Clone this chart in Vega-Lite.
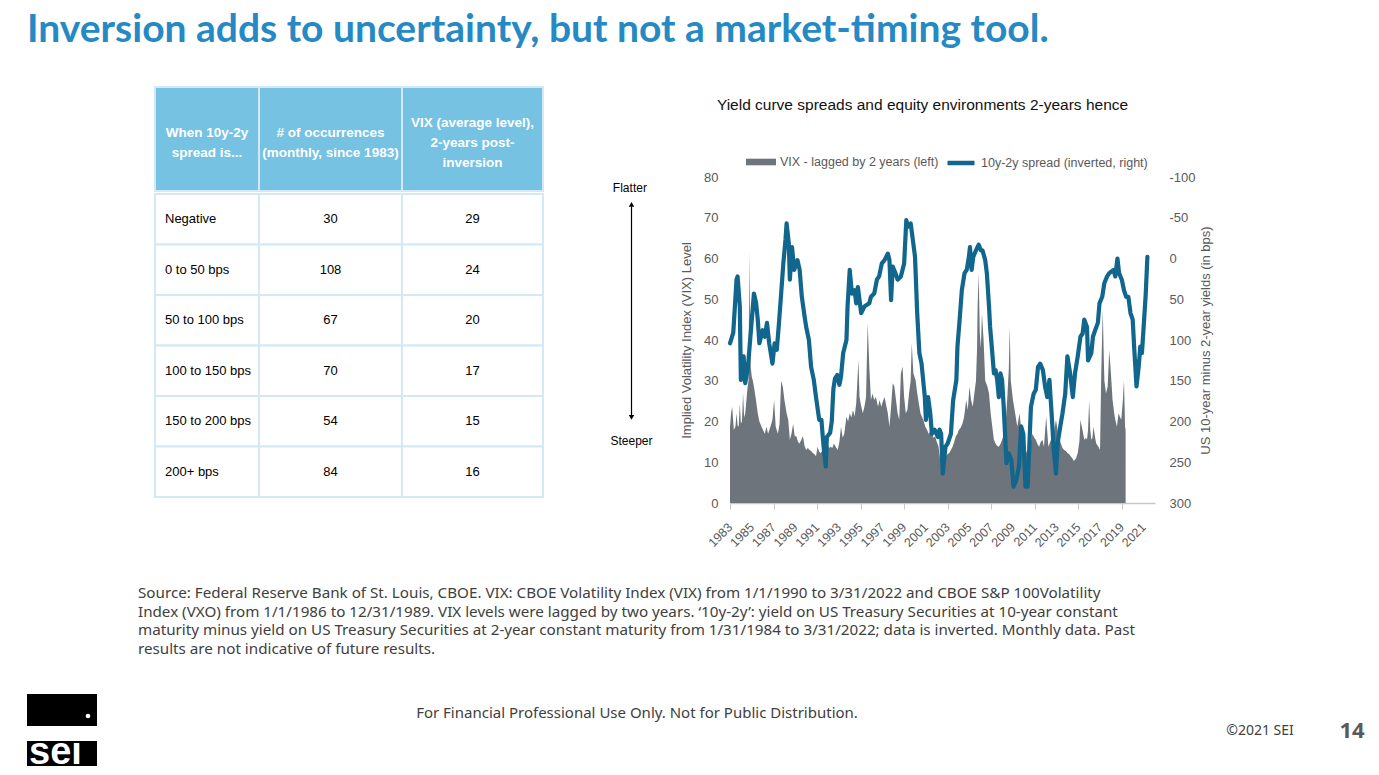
{
"$schema": "https://vega.github.io/schema/vega-lite/v6.json",
"background": "white",
"padding": {"left": 27, "top": 10, "right": 5, "bottom": 0},
"title": {"text": "Inversion adds to uncertainty, but not a market-timing tool.", "anchor": "start", "font": "Lato", "fontSize": 39, "fontWeight": "bold", "color": "#2589c4", "offset": 35},
"config": {
  "view": {"stroke": null},
  "font": "Liberation Sans",
  "axis": {"labelFont": "Liberation Sans", "titleFont": "Liberation Sans"},
  "legend": {"labelFont": "Liberation Sans"}
},
"resolve": {"scale": {"fill": "independent", "stroke": "independent"}, "legend": {"fill": "independent", "stroke": "independent"}},
"datasets": {
  "tbl": [
    {"spread": "Negative", "occ": "30", "vix": "29"},
    {"spread": "0 to 50 bps", "occ": "108", "vix": "24"},
    {"spread": "50 to 100 bps", "occ": "67", "vix": "20"},
    {"spread": "100 to 150 bps", "occ": "70", "vix": "17"},
    {"spread": "150 to 200 bps", "occ": "54", "vix": "15"},
    {"spread": "200+ bps", "occ": "84", "vix": "16"}
  ],
  "years": [{"year":1983},{"year":1985},{"year":1987},{"year":1989},{"year":1991},{"year":1993},{"year":1995},{"year":1997},{"year":1999},{"year":2001},{"year":2003},{"year":2005},{"year":2007},{"year":2009},{"year":2011},{"year":2013},{"year":2015},{"year":2017},{"year":2019},{"year":2021}],
  "vix": [
{"year":1983.0,"vix":18.7},{"year":1983.1,"vix":22},{"year":1983.2,"vix":23.6},{"year":1983.35,"vix":18},{"year":1983.5,"vix":18.7},{"year":1983.6,"vix":22},{"year":1983.7,"vix":19},{"year":1983.8,"vix":18.7},{"year":1983.9,"vix":24.5},{"year":1984.0,"vix":19.5},{"year":1984.1,"vix":20},{"year":1984.2,"vix":27},{"year":1984.3,"vix":21},{"year":1984.4,"vix":22},{"year":1984.5,"vix":25},{"year":1984.6,"vix":28},{"year":1984.7,"vix":30},{"year":1984.78,"vix":61.7},{"year":1984.85,"vix":40},{"year":1984.9,"vix":33.5},{"year":1985.0,"vix":31},{"year":1985.1,"vix":30},{"year":1985.25,"vix":27.7},{"year":1985.4,"vix":25},{"year":1985.55,"vix":22},{"year":1985.7,"vix":20},{"year":1985.9,"vix":18.7},{"year":1986.05,"vix":17.8},{"year":1986.2,"vix":17},{"year":1986.35,"vix":18.7},{"year":1986.5,"vix":17},{"year":1986.6,"vix":17.8},{"year":1986.75,"vix":19},{"year":1986.9,"vix":20.4},{"year":1987.05,"vix":25.3},{"year":1987.2,"vix":18.7},{"year":1987.4,"vix":17},{"year":1987.55,"vix":19.4},{"year":1987.7,"vix":30},{"year":1987.85,"vix":28.6},{"year":1988.0,"vix":25.3},{"year":1988.2,"vix":22},{"year":1988.35,"vix":20.4},{"year":1988.5,"vix":15.5},{"year":1988.65,"vix":17},{"year":1988.8,"vix":19.4},{"year":1988.95,"vix":16.4},{"year":1989.1,"vix":16.4},{"year":1989.25,"vix":15},{"year":1989.4,"vix":14.6},{"year":1989.55,"vix":15.5},{"year":1989.7,"vix":16.4},{"year":1989.85,"vix":14},{"year":1990.0,"vix":13},{"year":1990.15,"vix":13.5},{"year":1990.3,"vix":13},{"year":1990.45,"vix":12.8},{"year":1990.6,"vix":12.3},{"year":1990.75,"vix":12},{"year":1990.9,"vix":11.5},{"year":1991.05,"vix":13.8},{"year":1991.2,"vix":12.5},{"year":1991.35,"vix":12.3},{"year":1991.5,"vix":13},{"year":1991.65,"vix":12.3},{"year":1991.8,"vix":13.5},{"year":1991.95,"vix":14.6},{"year":1992.1,"vix":13.5},{"year":1992.25,"vix":13.8},{"year":1992.4,"vix":13.5},{"year":1992.55,"vix":14.6},{"year":1992.7,"vix":13.8},{"year":1992.9,"vix":13},{"year":1993.05,"vix":15},{"year":1993.2,"vix":18.7},{"year":1993.35,"vix":16},{"year":1993.5,"vix":17},{"year":1993.7,"vix":21.2},{"year":1993.85,"vix":20},{"year":1994.0,"vix":22},{"year":1994.15,"vix":21},{"year":1994.3,"vix":22.8},{"year":1994.45,"vix":21.2},{"year":1994.6,"vix":24.5},{"year":1994.8,"vix":35.1},{"year":1994.9,"vix":26},{"year":1995.0,"vix":24.5},{"year":1995.2,"vix":22},{"year":1995.35,"vix":23.6},{"year":1995.5,"vix":26},{"year":1995.65,"vix":44.1},{"year":1995.8,"vix":33.5},{"year":1995.95,"vix":25.3},{"year":1996.1,"vix":26.9},{"year":1996.25,"vix":25.3},{"year":1996.4,"vix":26},{"year":1996.6,"vix":23.6},{"year":1996.75,"vix":25.3},{"year":1996.9,"vix":23.6},{"year":1997.05,"vix":25},{"year":1997.2,"vix":26},{"year":1997.35,"vix":24},{"year":1997.5,"vix":22},{"year":1997.65,"vix":18.7},{"year":1997.8,"vix":23.6},{"year":1997.95,"vix":29.4},{"year":1998.1,"vix":28.6},{"year":1998.25,"vix":25.3},{"year":1998.4,"vix":22},{"year":1998.55,"vix":20.4},{"year":1998.7,"vix":31.8},{"year":1998.85,"vix":33.5},{"year":1999.0,"vix":26},{"year":1999.15,"vix":22},{"year":1999.3,"vix":22.8},{"year":1999.45,"vix":26.9},{"year":1999.6,"vix":30},{"year":1999.7,"vix":39.2},{"year":1999.85,"vix":31.8},{"year":2000.05,"vix":30.2},{"year":2000.2,"vix":27},{"year":2000.3,"vix":25.3},{"year":2000.5,"vix":22},{"year":2000.75,"vix":20.4},{"year":2000.95,"vix":18.7},{"year":2001.1,"vix":18},{"year":2001.25,"vix":17},{"year":2001.4,"vix":17.5},{"year":2001.55,"vix":17},{"year":2001.7,"vix":16},{"year":2001.85,"vix":16.4},{"year":2002.0,"vix":15},{"year":2002.15,"vix":14},{"year":2002.3,"vix":11},{"year":2002.45,"vix":10},{"year":2002.55,"vix":8.9},{"year":2002.7,"vix":10.5},{"year":2002.85,"vix":11.5},{"year":2003.0,"vix":12},{"year":2003.15,"vix":12.3},{"year":2003.3,"vix":13},{"year":2003.45,"vix":13.8},{"year":2003.6,"vix":15},{"year":2003.75,"vix":16.4},{"year":2003.9,"vix":17},{"year":2004.0,"vix":17.8},{"year":2004.2,"vix":18.5},{"year":2004.35,"vix":19.4},{"year":2004.5,"vix":21},{"year":2004.6,"vix":23},{"year":2004.7,"vix":25.3},{"year":2004.85,"vix":22.8},{"year":2005.0,"vix":28.6},{"year":2005.15,"vix":25.3},{"year":2005.3,"vix":23.6},{"year":2005.45,"vix":26.9},{"year":2005.6,"vix":30},{"year":2005.7,"vix":38},{"year":2005.75,"vix":48.2},{"year":2005.85,"vix":56.4},{"year":2005.95,"vix":41.7},{"year":2006.05,"vix":38},{"year":2006.15,"vix":46.5},{"year":2006.3,"vix":40},{"year":2006.45,"vix":30},{"year":2006.65,"vix":28.6},{"year":2006.8,"vix":26.9},{"year":2006.95,"vix":22},{"year":2007.1,"vix":18.7},{"year":2007.25,"vix":15.5},{"year":2007.4,"vix":14.6},{"year":2007.55,"vix":14},{"year":2007.7,"vix":13.8},{"year":2007.85,"vix":14.5},{"year":2008.0,"vix":15.5},{"year":2008.2,"vix":17},{"year":2008.35,"vix":20.4},{"year":2008.5,"vix":26.9},{"year":2008.62,"vix":33},{"year":2008.7,"vix":43.3},{"year":2008.8,"vix":30},{"year":2009.0,"vix":25.3},{"year":2009.2,"vix":22},{"year":2009.4,"vix":18.7},{"year":2009.6,"vix":22},{"year":2009.8,"vix":17},{"year":2010.0,"vix":15.5},{"year":2010.25,"vix":12.3},{"year":2010.5,"vix":13.8},{"year":2010.65,"vix":15},{"year":2010.8,"vix":17},{"year":2010.95,"vix":16},{"year":2011.1,"vix":15.5},{"year":2011.25,"vix":14.5},{"year":2011.4,"vix":13.8},{"year":2011.55,"vix":15},{"year":2011.7,"vix":15.5},{"year":2011.85,"vix":13.8},{"year":2012.05,"vix":21.2},{"year":2012.25,"vix":13.8},{"year":2012.5,"vix":15.5},{"year":2012.75,"vix":17},{"year":2012.95,"vix":20.4},{"year":2013.15,"vix":17},{"year":2013.4,"vix":14.6},{"year":2013.55,"vix":13.5},{"year":2013.7,"vix":13},{"year":2013.85,"vix":12.8},{"year":2014.0,"vix":12.3},{"year":2014.15,"vix":12},{"year":2014.3,"vix":11.5},{"year":2014.45,"vix":11},{"year":2014.6,"vix":10.3},{"year":2014.8,"vix":11},{"year":2014.95,"vix":12.3},{"year":2015.1,"vix":15},{"year":2015.2,"vix":20.4},{"year":2015.3,"vix":19},{"year":2015.4,"vix":17.8},{"year":2015.55,"vix":15.5},{"year":2015.7,"vix":16},{"year":2015.8,"vix":15.5},{"year":2015.9,"vix":18},{"year":2016.0,"vix":25.3},{"year":2016.1,"vix":18},{"year":2016.2,"vix":15.5},{"year":2016.3,"vix":16},{"year":2016.4,"vix":18.7},{"year":2016.55,"vix":16},{"year":2016.65,"vix":14.6},{"year":2016.85,"vix":13.8},{"year":2017.0,"vix":13},{"year":2017.1,"vix":30},{"year":2017.15,"vix":36.7},{"year":2017.25,"vix":47.4},{"year":2017.35,"vix":35},{"year":2017.4,"vix":30},{"year":2017.55,"vix":26.9},{"year":2017.7,"vix":28.6},{"year":2017.85,"vix":37.5},{"year":2018.0,"vix":31.8},{"year":2018.15,"vix":25.3},{"year":2018.3,"vix":22},{"year":2018.4,"vix":20.4},{"year":2018.55,"vix":18.7},{"year":2018.7,"vix":22},{"year":2018.85,"vix":21},{"year":2018.95,"vix":20.4},{"year":2019.1,"vix":25.3},{"year":2019.2,"vix":30.2},{"year":2019.3,"vix":18.7},{"year":2019.35,"vix":18}
  ],
  "spread": [
{"year":1983.0,"bps":104},{"year":1983.3,"bps":91},{"year":1983.6,"bps":26},{"year":1983.7,"bps":22},{"year":1983.9,"bps":59},{"year":1984.0,"bps":149},{"year":1984.25,"bps":120},{"year":1984.4,"bps":153},{"year":1984.65,"bps":133},{"year":1984.85,"bps":100},{"year":1985.2,"bps":43},{"year":1985.4,"bps":55},{"year":1985.55,"bps":75},{"year":1985.7,"bps":104},{"year":1986.0,"bps":88},{"year":1986.2,"bps":96},{"year":1986.4,"bps":79},{"year":1986.6,"bps":104},{"year":1986.9,"bps":129},{"year":1987.1,"bps":104},{"year":1987.3,"bps":112},{"year":1987.5,"bps":79},{"year":1987.7,"bps":43},{"year":1987.9,"bps":6},{"year":1988.1,"bps":-23},{"year":1988.2,"bps":-43},{"year":1988.4,"bps":-19},{"year":1988.5,"bps":26},{"year":1988.7,"bps":-14},{"year":1988.9,"bps":14},{"year":1989.2,"bps":2},{"year":1989.4,"bps":14},{"year":1989.6,"bps":47},{"year":1989.85,"bps":71},{"year":1990.0,"bps":84},{"year":1990.25,"bps":100},{"year":1990.45,"bps":133},{"year":1990.7,"bps":149},{"year":1990.9,"bps":170},{"year":1991.2,"bps":198},{"year":1991.4,"bps":198},{"year":1991.6,"bps":231},{"year":1991.8,"bps":255},{"year":1991.9,"bps":219},{"year":1992.2,"bps":214},{"year":1992.35,"bps":200},{"year":1992.5,"bps":160},{"year":1992.65,"bps":147},{"year":1992.85,"bps":143},{"year":1993.05,"bps":155},{"year":1993.2,"bps":145},{"year":1993.4,"bps":116},{"year":1993.7,"bps":100},{"year":1993.8,"bps":59},{"year":1994.0,"bps":14},{"year":1994.2,"bps":43},{"year":1994.45,"bps":39},{"year":1994.6,"bps":55},{"year":1994.75,"bps":35},{"year":1995.05,"bps":67},{"year":1995.35,"bps":59},{"year":1995.8,"bps":55},{"year":1995.95,"bps":47},{"year":1996.25,"bps":43},{"year":1996.5,"bps":26},{"year":1996.7,"bps":22},{"year":1996.95,"bps":6},{"year":1997.2,"bps":2},{"year":1997.5,"bps":-6},{"year":1997.65,"bps":2},{"year":1997.8,"bps":51},{"year":1997.95,"bps":10},{"year":1998.2,"bps":18},{"year":1998.4,"bps":26},{"year":1998.7,"bps":22},{"year":1999.0,"bps":6},{"year":1999.2,"bps":-47},{"year":1999.35,"bps":-39},{"year":1999.6,"bps":-43},{"year":1999.8,"bps":-23},{"year":2000.0,"bps":-2},{"year":2000.2,"bps":67},{"year":2000.4,"bps":116},{"year":2000.6,"bps":129},{"year":2000.9,"bps":170},{"year":2001.0,"bps":198},{"year":2001.2,"bps":170},{"year":2001.4,"bps":190},{"year":2001.55,"bps":215},{"year":2001.8,"bps":210},{"year":2002.1,"bps":219},{"year":2002.25,"bps":210},{"year":2002.4,"bps":215},{"year":2002.55,"bps":264},{"year":2002.8,"bps":231},{"year":2003.0,"bps":227},{"year":2003.3,"bps":215},{"year":2003.5,"bps":174},{"year":2003.8,"bps":149},{"year":2003.9,"bps":108},{"year":2004.1,"bps":75},{"year":2004.3,"bps":39},{"year":2004.55,"bps":18},{"year":2004.75,"bps":14},{"year":2004.95,"bps":-2},{"year":2005.05,"bps":-14},{"year":2005.2,"bps":14},{"year":2005.35,"bps":-2},{"year":2005.6,"bps":-10},{"year":2005.85,"bps":-17},{"year":2006.05,"bps":-10},{"year":2006.2,"bps":-10},{"year":2006.45,"bps":2},{"year":2006.6,"bps":18},{"year":2006.8,"bps":59},{"year":2006.9,"bps":84},{"year":2007.1,"bps":116},{"year":2007.25,"bps":141},{"year":2007.4,"bps":137},{"year":2007.55,"bps":149},{"year":2007.7,"bps":170},{"year":2007.85,"bps":141},{"year":2008.0,"bps":149},{"year":2008.15,"bps":182},{"year":2008.4,"bps":251},{"year":2008.6,"bps":239},{"year":2008.85,"bps":247},{"year":2009.05,"bps":280},{"year":2009.3,"bps":272},{"year":2009.55,"bps":255},{"year":2009.75,"bps":206},{"year":2009.95,"bps":215},{"year":2010.15,"bps":280},{"year":2010.35,"bps":280},{"year":2010.5,"bps":231},{"year":2010.65,"bps":182},{"year":2010.9,"bps":166},{"year":2011.1,"bps":161},{"year":2011.3,"bps":133},{"year":2011.5,"bps":129},{"year":2011.75,"bps":137},{"year":2011.95,"bps":157},{"year":2012.15,"bps":170},{"year":2012.35,"bps":149},{"year":2012.55,"bps":190},{"year":2012.75,"bps":235},{"year":2012.95,"bps":264},{"year":2013.1,"bps":227},{"year":2013.35,"bps":206},{"year":2013.55,"bps":190},{"year":2013.8,"bps":166},{"year":2014.0,"bps":120},{"year":2014.25,"bps":141},{"year":2014.5,"bps":170},{"year":2014.7,"bps":141},{"year":2014.95,"bps":120},{"year":2015.2,"bps":96},{"year":2015.4,"bps":92},{"year":2015.55,"bps":75},{"year":2015.8,"bps":84},{"year":2015.9,"bps":125},{"year":2016.2,"bps":116},{"year":2016.35,"bps":96},{"year":2016.55,"bps":88},{"year":2016.8,"bps":79},{"year":2016.95,"bps":55},{"year":2017.2,"bps":47},{"year":2017.4,"bps":30},{"year":2017.65,"bps":22},{"year":2017.85,"bps":18},{"year":2018.05,"bps":16},{"year":2018.25,"bps":14},{"year":2018.4,"bps":22},{"year":2018.6,"bps":0},{"year":2018.75,"bps":18},{"year":2019.0,"bps":26},{"year":2019.2,"bps":39},{"year":2019.4,"bps":47},{"year":2019.6,"bps":47},{"year":2019.8,"bps":67},{"year":2020.0,"bps":75},{"year":2020.15,"bps":112},{"year":2020.35,"bps":157},{"year":2020.55,"bps":133},{"year":2020.7,"bps":108},{"year":2020.85,"bps":116},{"year":2021.05,"bps":75},{"year":2021.2,"bps":43},{"year":2021.35,"bps":-2}
  ]
},
"spacing": 33,
"vconcat": [
  {
    "resolve": {"scale": {"fill": "independent", "stroke": "independent"}, "legend": {"fill": "independent", "stroke": "independent"}},
    "hconcat": [
      {"width": 61, "height": 1, "data": {"values": [{"s": 1}]}, "mark": {"type": "point", "opacity": 0}, "encoding": {}},
      {
        "vconcat": [
          {"hconcat": [
            {"width": 104, "height": 104, "data": {"values": [{"h": "When 10y-2y\nspread is..."}]}, "view": {"fill": "#75c2e3", "stroke": "#d3eaf6", "strokeWidth": 2}, "mark": {"type": "text", "lineBreak": "\n", "color": "white", "fontWeight": "bold", "fontSize": 13.5, "lineHeight": 20, "dy": -6}, "encoding": {"text": {"field": "h"}}},
            {"width": 143, "height": 104, "data": {"values": [{"h": "# of occurrences\n(monthly, since 1983)"}]}, "view": {"fill": "#75c2e3", "stroke": "#d3eaf6", "strokeWidth": 2}, "mark": {"type": "text", "lineBreak": "\n", "color": "white", "fontWeight": "bold", "fontSize": 13.5, "lineHeight": 20, "dy": -6}, "encoding": {"text": {"field": "h"}}},
            {"width": 141, "height": 104, "data": {"values": [{"h": "VIX (average level),\n2-years post-\ninversion"}]}, "view": {"fill": "#75c2e3", "stroke": "#d3eaf6", "strokeWidth": 2}, "mark": {"type": "text", "lineBreak": "\n", "color": "white", "fontWeight": "bold", "fontSize": 13.5, "lineHeight": 20, "dy": -16}, "encoding": {"text": {"field": "h"}}}
          ], "spacing": 0, "bounds": "flush"},
          {"hconcat": [
            {"width": 104, "height": 303, "data": {"name": "tbl"}, "view": {"fill": "white", "stroke": "#d3eaf6", "strokeWidth": 2},
             "encoding": {"y": {"field": "spread", "type": "nominal", "sort": null, "axis": null, "scale": {"paddingInner": 0, "paddingOuter": 0}}},
             "layer": [
               {"mark": {"type": "rect", "fill": "white", "stroke": "#d3eaf6", "strokeWidth": 2}},
               {"mark": {"type": "text", "align": "left", "fontSize": 13, "color": "black"}, "encoding": {"text": {"field": "spread"}, "x": {"value": 10}}}
             ]},
            {"width": 143, "height": 303, "data": {"name": "tbl"}, "view": {"fill": "white", "stroke": "#d3eaf6", "strokeWidth": 2},
             "encoding": {"y": {"field": "spread", "type": "nominal", "sort": null, "axis": null, "scale": {"paddingInner": 0, "paddingOuter": 0}}},
             "layer": [
               {"mark": {"type": "rect", "fill": "white", "stroke": "#d3eaf6", "strokeWidth": 2}},
               {"mark": {"type": "text", "fontSize": 13, "color": "black"}, "encoding": {"text": {"field": "occ"}}}
             ]},
            {"width": 141, "height": 303, "data": {"name": "tbl"}, "view": {"fill": "white", "stroke": "#d3eaf6", "strokeWidth": 2},
             "encoding": {"y": {"field": "spread", "type": "nominal", "sort": null, "axis": null, "scale": {"paddingInner": 0, "paddingOuter": 0}}},
             "layer": [
               {"mark": {"type": "rect", "fill": "white", "stroke": "#d3eaf6", "strokeWidth": 2}},
               {"mark": {"type": "text", "fontSize": 13, "color": "black"}, "encoding": {"text": {"field": "vix"}}}
             ]}
          ], "spacing": 0, "bounds": "flush"}
        ],
        "spacing": 0
      },
      {
        "resolve": {"scale": {"fill": "independent", "stroke": "independent"}, "legend": {"fill": "independent", "stroke": "independent"}},
        "vconcat": [
          {"width": 1, "height": 1, "data": {"values": [{"s": 1}]}, "mark": {"type": "point", "opacity": 0}, "encoding": {}},
          {
            "width": 425, "height": 326,
            "title": {"text": "Yield curve spreads and equity environments 2-years hence", "font": "Liberation Sans", "fontSize": 15.5, "fontWeight": "normal", "color": "#111111", "anchor": "middle", "offset": 34, "dx": -20},
            "layer": [
              {"layer": [
                {"data": {"name": "vix"}, "mark": {"type": "area", "interpolate": "linear"},
                 "encoding": {
                   "x": {"field": "year", "type": "quantitative", "scale": {"domain": [1983, 2022.05], "nice": false, "zero": false},
                         "axis": {"values": [1983,1985,1987,1989,1991,1993,1995,1997,1999,2001,2003,2005,2007,2009,2011,2013,2015,2017,2019,2021], "labels": false, "domainColor": "#c8c8c8", "domainWidth": 1.5, "tickColor": "#c8c8c8", "tickSize": 6, "tickWidth": 1, "grid": false, "title": null}},
                   "y": {"field": "vix", "type": "quantitative", "scale": {"domain": [0, 80], "nice": false},
                         "axis": {"values": [0,10,20,30,40,50,60,70,80], "domain": false, "ticks": false, "grid": false, "labelFontSize": 13, "labelColor": "#595959", "labelPadding": 12, "title": "Implied Volatility Index (VIX) Level", "titleColor": "#595959", "titleFontWeight": "normal", "titleFontSize": 13, "titlePadding": 10}},
                   "fill": {"datum": "VIX - lagged by 2 years (left)", "type": "nominal", "scale": {"range": ["#6d747c"]},
                            "legend": {"orient": "none", "legendX": 16, "legendY": -30, "title": null, "padding": 0, "symbolType": "M-1,-0.22H1V0.22H-1Z", "symbolSize": 900, "symbolStrokeWidth": 0, "labelFontSize": 12.5, "labelColor": "#595959", "labelOffset": 4, "labelLimit": 300}}
                 }},
                {"data": {"name": "years"}, "mark": {"type": "text", "angle": 315, "align": "right", "baseline": "top", "font": "Liberation Sans", "fontSize": 12.5, "color": "#595959", "xOffset": -4, "yOffset": 18},
                 "encoding": {"x": {"field": "year", "type": "quantitative", "scale": {"domain": [1983, 2022.05], "nice": false, "zero": false}}, "y": {"datum": 0, "type": "quantitative", "scale": {"domain": [0, 80], "nice": false}}, "text": {"field": "year", "type": "quantitative", "format": "d"}}},
                {"data": {"values": [{"a": 1}]}, "mark": {"type": "rule", "color": "black", "strokeWidth": 1.2},
                 "encoding": {"x": {"datum": 1973.95, "type": "quantitative", "scale": {"domain": [1983, 2022.05], "nice": false, "zero": false}}, "y": {"datum": 72.8, "type": "quantitative", "scale": {"domain": [0, 80], "nice": false}}, "y2": {"datum": 21.4}}},
                {"data": {"values": [{"a": 1}]}, "mark": {"type": "point", "shape": "triangle-up", "filled": true, "color": "black", "size": 30, "opacity": 1},
                 "encoding": {"x": {"datum": 1973.95, "type": "quantitative", "scale": {"domain": [1983, 2022.05], "nice": false, "zero": false}}, "y": {"datum": 73.3, "type": "quantitative", "scale": {"domain": [0, 80], "nice": false}}}},
                {"data": {"values": [{"a": 1}]}, "mark": {"type": "point", "shape": "triangle-down", "filled": true, "color": "black", "size": 30, "opacity": 1},
                 "encoding": {"x": {"datum": 1973.95, "type": "quantitative", "scale": {"domain": [1983, 2022.05], "nice": false, "zero": false}}, "y": {"datum": 21.0, "type": "quantitative", "scale": {"domain": [0, 80], "nice": false}}}},
                {"data": {"values": [{"t": "Flatter"}]}, "mark": {"type": "text", "font": "Liberation Sans", "fontSize": 12, "color": "black"},
                 "encoding": {"x": {"datum": 1973.8, "type": "quantitative", "scale": {"domain": [1983, 2022.05], "nice": false, "zero": false}}, "y": {"datum": 77.3, "type": "quantitative", "scale": {"domain": [0, 80], "nice": false}}, "text": {"field": "t"}}},
                {"data": {"values": [{"t": "Steeper"}]}, "mark": {"type": "text", "font": "Liberation Sans", "fontSize": 12, "color": "black"},
                 "encoding": {"x": {"datum": 1973.95, "type": "quantitative", "scale": {"domain": [1983, 2022.05], "nice": false, "zero": false}}, "y": {"datum": 15.2, "type": "quantitative", "scale": {"domain": [0, 80], "nice": false}}, "text": {"field": "t"}}}
              ]},
              {"data": {"name": "spread"}, "mark": {"type": "line", "strokeWidth": 4.2, "strokeJoin": "round", "strokeCap": "round"},
               "encoding": {
                 "x": {"field": "year", "type": "quantitative", "scale": {"domain": [1983, 2022.05], "nice": false, "zero": false},
                       "axis": {"values": [1983,1985,1987,1989,1991,1993,1995,1997,1999,2001,2003,2005,2007,2009,2011,2013,2015,2017,2019,2021], "labels": false, "domainColor": "#c8c8c8", "domainWidth": 1.5, "tickColor": "#c8c8c8", "tickSize": 6, "tickWidth": 1, "grid": false, "title": null}},
                 "y": {"field": "bps", "type": "quantitative", "scale": {"domain": [-100, 300], "reverse": true, "nice": false, "zero": false},
                       "axis": {"orient": "right", "values": [-100,-50,0,50,100,150,200,250,300], "labelExpr": "'' + datum.value", "domain": false, "ticks": false, "grid": false, "labelFontSize": 13, "labelColor": "#595959", "labelPadding": 14, "title": "US 10-year minus 2-year yields (in bps)", "titleAngle": 270, "titleBaseline": "top", "titleColor": "#595959", "titleFontWeight": "normal", "titleFontSize": 13, "titlePadding": 4}},
                 "stroke": {"datum": "10y-2y spread (inverted, right)", "type": "nominal", "scale": {"range": ["#10668c"]},
                            "legend": {"orient": "none", "legendX": 215, "legendY": -30, "title": null, "padding": 0, "symbolType": "stroke", "symbolSize": 729, "symbolStrokeWidth": 4.5, "labelFontSize": 12.5, "labelColor": "#595959", "labelOffset": 4, "labelLimit": 300}}
               }}
            ],
            "resolve": {"scale": {"y": "independent"}}
          }
        ],
        "spacing": 6
      }
    ],
    "spacing": 65
  },
  {
    "width": 1340, "height": 183,
    "layer": [
      {"data": {"values": [{"t": "Source: Federal Reserve Bank of St. Louis, CBOE. VIX: CBOE Volatility Index (VIX) from 1/1/1990 to 3/31/2022 and CBOE S&P 100Volatility\nIndex (VXO) from 1/1/1986 to 12/31/1989. VIX levels were lagged by two years. ‘10y-2y’: yield on US Treasury Securities at 10-year constant\nmaturity minus yield on US Treasury Securities at 2-year constant maturity from 1/31/1984 to 3/31/2022; data is inverted. Monthly data. Past\nresults are not indicative of future results."}]},
       "mark": {"type": "text", "lineBreak": "\n", "align": "left", "baseline": "top", "font": "Noto Sans", "fontSize": 15.2, "lineHeight": 18.7, "color": "#404040"},
       "encoding": {"x": {"datum": 111, "type": "quantitative", "scale": {"domain": [0, 1340], "nice": false, "zero": false}, "axis": null}, "y": {"datum": 3, "type": "quantitative", "scale": {"domain": [0, 183], "reverse": true, "nice": false, "zero": false}, "axis": null}, "text": {"field": "t"}}},
      {"data": {"values": [{"t": "For Financial Professional Use Only. Not for Public Distribution."}]},
       "mark": {"type": "text", "font": "Noto Sans", "fontSize": 15, "color": "#404040"},
       "encoding": {"x": {"datum": 610, "type": "quantitative"}, "y": {"datum": 130, "type": "quantitative"}, "text": {"field": "t"}}},
      {"data": {"values": [{"t": "©2021 SEI"}]},
       "mark": {"type": "text", "font": "Noto Sans", "fontSize": 14, "color": "#404040"},
       "encoding": {"x": {"datum": 1233, "type": "quantitative"}, "y": {"datum": 148, "type": "quantitative"}, "text": {"field": "t"}}},
      {"data": {"values": [{"t": "14"}]},
       "mark": {"type": "text", "font": "Noto Sans", "fontSize": 22, "fontWeight": "bold", "color": "#595959"},
       "encoding": {"x": {"datum": 1325, "type": "quantitative"}, "y": {"datum": 148, "type": "quantitative"}, "text": {"field": "t"}}},
      {"data": {"values": [{"part": "mark"}]},
       "mark": {"type": "rect", "color": "black"},
       "encoding": {"x": {"datum": 0, "type": "quantitative"}, "x2": {"datum": 70}, "y": {"datum": 111, "type": "quantitative"}, "y2": {"datum": 143}}},
      {"data": {"values": [{"part": "word"}]},
       "mark": {"type": "rect", "color": "black"},
       "encoding": {"x": {"datum": 0, "type": "quantitative"}, "x2": {"datum": 70}, "y": {"datum": 158, "type": "quantitative"}, "y2": {"datum": 183}}},
      {"data": {"values": [{"part": "dot"}]},
       "mark": {"type": "point", "shape": "circle", "filled": true, "color": "white", "size": 22, "opacity": 1},
       "encoding": {"x": {"datum": 61, "type": "quantitative"}, "y": {"datum": 133, "type": "quantitative"}}},
      {"data": {"values": [{"t": "sei"}]},
       "mark": {"type": "text", "font": "Liberation Sans", "fontWeight": "bold", "fontSize": 38, "color": "white", "align": "left", "baseline": "alphabetic"},
       "encoding": {"x": {"datum": 2, "type": "quantitative"}, "y": {"datum": 181, "type": "quantitative"}, "text": {"field": "t"}}}
    ]
  }
]
}
